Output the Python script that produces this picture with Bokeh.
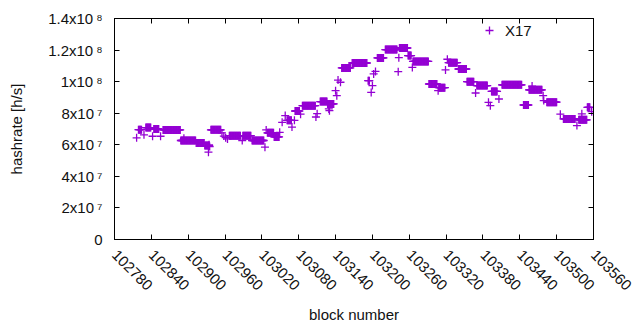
import numpy as np
from bokeh.plotting import figure
from bokeh.models import (Range1d, FixedTicker, LinearAxis, Legend, LegendItem, ColumnDataSource,
                          BasicTickFormatter)
from bokeh.embed import file_html
from bokeh.resources import INLINE

# Runs of consecutive blocks with a constant hashrate (start block, end block, hashrate in h/s)
run_start = [102816, 102819, 102828, 102831, 102842, 102844, 102855, 102859, 102893, 102888,
             102913, 102927, 102933, 102934, 102935, 102937, 102955, 102958, 102961, 102964,
             102967, 102988, 102989, 103004, 103025, 103027, 103029, 103040, 103049, 103053,
             103058, 103061, 103069, 103073, 103074, 103083, 103086, 103108, 103110, 103115,
             103129, 103130, 103127, 103140, 103142, 103144, 103148, 103150, 103167, 103193,
             103198, 103200, 103202, 103205, 103208, 103221, 103242, 103243, 103244, 103258,
             103265, 103266, 103292, 103307, 103308, 103319, 103322, 103324, 103340, 103354,
             103368, 103370, 103389, 103392, 103394, 103406, 103411, 103446, 103455, 103460,
             103478, 103479, 103484, 103506, 103511, 103533, 103541, 103536, 103550, 103557]
run_end = [102816, 102824, 102828, 102839, 102842, 102852, 102855, 102887, 102893, 102912,
           102926, 102934, 102933, 102934, 102935, 102953, 102955, 102958, 102961, 102964,
           102985, 102988, 103002, 103023, 103025, 103027, 103039, 103048, 103049, 103053,
           103058, 103068, 103069, 103073, 103081, 103083, 103107, 103108, 103110, 103126,
           103129, 103130, 103137, 103140, 103142, 103144, 103148, 103164, 103191, 103195,
           103198, 103200, 103202, 103205, 103218, 103240, 103242, 103243, 103257, 103263,
           103265, 103291, 103305, 103307, 103318, 103319, 103322, 103338, 103353, 103365,
           103368, 103387, 103389, 103392, 103403, 103406, 103443, 103454, 103476, 103460,
           103478, 103479, 103500, 103506, 103530, 103533, 103541, 103549, 103554, 103557]
run_hashrate = [6.44e7, 6.96e7, 6.63e7, 7.09e7, 6.54e7, 7.00e7, 6.54e7, 6.94e7, 6.41e7, 6.27e7,
                6.12e7, 5.95e7, 5.53e7, 6.00e7, 5.89e7, 6.95e7, 6.75e7, 6.55e7, 6.45e7, 6.37e7,
                6.58e7, 6.27e7, 6.58e7, 6.27e7, 5.85e7, 6.94e7, 6.76e7, 6.50e7, 6.79e7, 7.42e7,
                7.85e7, 7.55e7, 7.12e7, 7.55e7, 8.14e7, 7.94e7, 8.48e7, 7.76e7, 7.97e7, 8.74e7,
                8.27e7, 8.16e7, 8.59e7, 9.43e7, 9.11e7, 10.10e7, 9.96e7, 10.87e7, 11.18e7, 10.06e7,
                9.32e7, 9.75e7, 10.49e7, 10.65e7, 11.50e7, 12.03e7, 10.63e7, 11.52e7, 12.13e7, 11.65e7,
                10.90e7, 11.28e7, 9.85e7, 9.43e7, 9.62e7, 10.74e7, 11.42e7, 11.20e7, 10.80e7, 10.00e7,
                9.28e7, 9.75e7, 8.69e7, 8.48e7, 9.38e7, 8.90e7, 9.80e7, 8.52e7, 9.48e7, 9.72e7,
                9.11e7, 8.80e7, 8.70e7, 7.94e7, 7.64e7, 7.22e7, 7.96e7, 7.58e7, 8.37e7, 8.10e7]

x_ticks = [102780, 102840, 102900, 102960, 103020, 103080, 103140, 103200,
           103260, 103320, 103380, 103440, 103500, 103560]
y_ticks = [0, 2e7, 4e7, 6e7, 8e7, 1e8, 1.2e8, 1.4e8]
y_tick_labels = ["0", "2x10\u2009\u2077", "4x10\u2009\u2077", "6x10\u2009\u2077", "8x10\u2009\u2077",
                 "1x10\u2009\u2078", "1.2x10\u2009\u2078", "1.4x10\u2009\u2078"]
series_name = "X17"

blocks = np.concatenate([np.arange(s, e + 1) for s, e in zip(run_start, run_end)])
rates = np.concatenate([np.full(e - s + 1, v) for s, e, v in zip(run_start, run_end, run_hashrate)])
src = ColumnDataSource(dict(block=blocks, rate=rates))

FONT = "Liberation Sans"
COLOR = "#9400d3"
TEXT = "#111111"

p = figure(width=640, height=330, output_backend="svg", toolbar_location=None,
           x_range=Range1d(x_ticks[0], x_ticks[-1]), y_range=Range1d(y_ticks[0], y_ticks[-1]),
           min_border_left=114, min_border_right=47, min_border_top=18, min_border_bottom=91,
           background_fill_color="white", border_fill_color="white")
p.grid.visible = False
p.outline_line_color = "black"
p.outline_line_width = 1

r = p.scatter("block", "rate", source=src, marker="cross", size=8, line_width=1.3,
              line_color=COLOR)

xa = p.xaxis[0]
xa.ticker = FixedTicker(ticks=x_ticks)
xa.formatter = BasicTickFormatter(use_scientific=False)
xa.major_label_orientation = -np.pi / 4
xa.axis_label = "block number"
ya = p.yaxis[0]
ya.ticker = FixedTicker(ticks=y_ticks)
ya.major_label_overrides = {v: t for v, t in zip(y_ticks, y_tick_labels)}
ya.axis_label = "hashrate [h/s]"

for ax in (xa, ya):
    ax.axis_line_color = "black"
    ax.major_tick_line_color = "black"
    ax.major_tick_in = 5
    ax.major_tick_out = 0
    ax.minor_tick_line_color = None
    ax.major_label_text_font = FONT
    ax.major_label_text_font_size = "15px"
    ax.major_label_text_color = TEXT
    ax.axis_label_text_font = FONT
    ax.axis_label_text_font_size = "15px"
    ax.axis_label_text_font_style = "normal"
    ax.axis_label_text_color = TEXT
xa.major_label_standoff = 13
xa.axis_label_standoff = 8
ya.major_label_standoff = 12
ya.axis_label_standoff = 20

top = LinearAxis(ticker=FixedTicker(ticks=x_ticks), major_label_overrides={t: "" for t in x_ticks},
                 major_label_standoff=0, major_tick_in=5, major_tick_out=0,
                 minor_tick_line_color=None, axis_line_color="black")
right = LinearAxis(ticker=FixedTicker(ticks=y_ticks), major_label_overrides={t: "" for t in y_ticks},
                   major_label_standoff=0, major_tick_in=5, major_tick_out=0,
                   minor_tick_line_color=None, axis_line_color="black")
p.add_layout(top, "above")
p.add_layout(right, "right")

legend = Legend(items=[LegendItem(label=series_name, renderers=[r])],
                location=(365, 199), padding=0, margin=0, spacing=0,
                glyph_width=20, glyph_height=20, label_standoff=6,
                label_text_font=FONT, label_text_font_size="15px", label_text_color=TEXT,
                border_line_color=None, background_fill_color=None)
p.add_layout(legend, "center")

open("out.html", "w").write(file_html(p, INLINE))
